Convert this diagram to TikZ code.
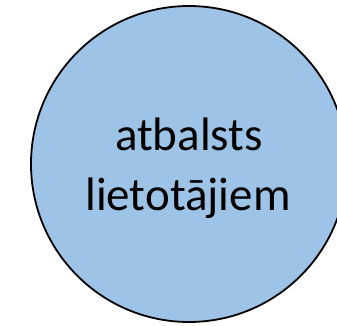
\documentclass[tikz,border=0pt]{standalone}
\usepackage{fontspec}
\setmainfont{Carlito}
\definecolor{bubble}{HTML}{9DC3E6}
\begin{document}
\begin{tikzpicture}[x=1pt,y=1pt]
  \useasboundingbox (0,0) rectangle (337,325);
  \clip (0,0) rectangle (337,325);
  \draw[fill=bubble, line width=1.8pt] (189,161) circle (158);
  \node[anchor=base, inner sep=0pt, font=\fontsize{47}{58}\selectfont] (first) at (189,175) {atbalsts};
  \node[anchor=base, inner sep=0pt, font=\fontsize{47}{58}\selectfont] (second) at (188,115) {lietotājiem};
\end{tikzpicture}
\end{document}
